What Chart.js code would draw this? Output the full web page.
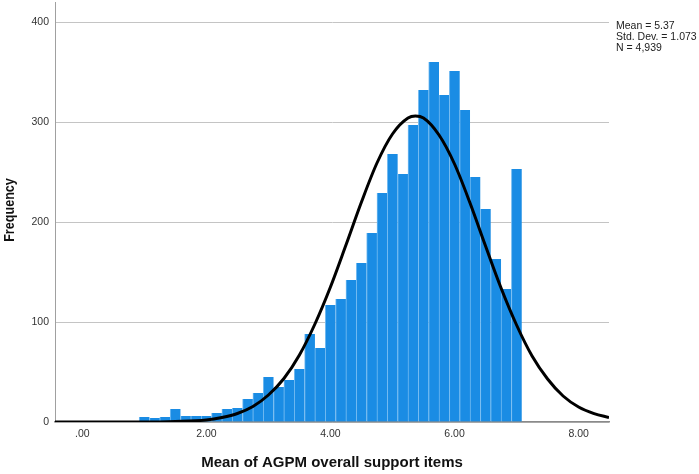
<!DOCTYPE html>
<html>
<head>
<meta charset="utf-8">
<script src="https://cdn.jsdelivr.net/npm/chart.js@4.4.1/dist/chart.umd.min.js"></script>
<style>
  html, body { margin: 0; padding: 0; background: #ffffff; }
  canvas { display: block; }
</style>
</head>
<body>
<canvas id="c" width="699" height="474"></canvas>
<script>
// Histogram bins (bin centres) and frequencies
const binCenters = [1.0000, 1.1667, 1.3333, 1.5000, 1.6667, 1.8333, 2.0000, 2.1667, 2.3333, 2.5000,
                    2.6667, 2.8333, 3.0000, 3.1667, 3.3333, 3.5000, 3.6667, 3.8333, 4.0000, 4.1667,
                    4.3333, 4.5000, 4.6667, 4.8333, 5.0000, 5.1667, 5.3333, 5.5000, 5.6667, 5.8333,
                    6.0000, 6.1667, 6.3333, 6.5000, 6.6667, 6.8333, 7.0000];
const frequencies = [5, 4, 5, 13, 6, 6, 6, 9, 13, 14,
                     23, 29, 45, 35, 42, 53, 88, 74, 117, 123,
                     142, 159, 189, 229, 268, 248, 297, 332, 360, 327,
                     351, 312, 245, 213, 163, 133, 253];

// Normal curve points
const curveX = [-0.44, 0, 0.5, 1.0, 1.5, 2.0, 2.25, 2.5, 2.75, 3.0, 3.25, 3.5, 3.75, 4.0, 4.25, 4.5, 4.75,
                5.0, 5.25, 5.37, 5.5, 5.75, 6.0, 6.25, 6.5, 6.75, 7.0, 7.25, 7.5, 7.75, 8.0, 8.25, 8.49];
const curveY = [0, 0, 0, 0, 0.5, 2, 4.5, 8.5, 15.5, 27, 43.5, 67, 98, 135, 177, 220, 259,
                288, 304, 306, 304, 287, 258, 219, 176, 134, 97, 66, 43, 26, 15, 8.4, 4.5];

const xTickValues = [0, 2, 4, 6, 8];
const xTickLabels = ['.00', '2.00', '4.00', '6.00', '8.00'];
const yTickValues = [0, 100, 200, 300, 400];
const yTickLabels = ['0', '100', '200', '300', '400'];

const statsLines = ['Mean = 5.37', 'Std. Dev. = 1.073', 'N = 4,939'];

const xTitle = 'Mean of AGPM overall support items';
const yTitle = 'Frequency';

const FONT = "'Liberation Sans', Arial, sans-serif";

const textPlugin = {
  id: 'texts',
  afterDraw(chart) {
    const ctx = chart.ctx;
    const area = chart.chartArea;
    ctx.save();
    ctx.fillStyle = '#222222';
    ctx.font = "10.5px " + FONT;
    ctx.textAlign = 'left';
    ctx.textBaseline = 'middle';
    const x = area.right + 7;
    statsLines.forEach((t, i) => ctx.fillText(t, x, 26 + i * 11));
    ctx.restore();

    // rotated y-axis title (slightly condensed like the reference)
    ctx.save();
    ctx.fillStyle = '#111111';
    ctx.font = "bold 15px " + FONT;
    ctx.textAlign = 'center';
    ctx.textBaseline = 'middle';
    ctx.translate(10, (area.top + area.bottom) / 2 - 2);
    ctx.rotate(-Math.PI / 2);
    ctx.scale(0.84, 1);
    ctx.fillText(yTitle, 0, 0);
    ctx.restore();
  }
};

new Chart(document.getElementById('c'), {
  type: 'bar',
  data: {
    datasets: [
      {
        type: 'line',
        data: curveX.map((x, i) => ({ x: x, y: curveY[i] })),
        borderColor: '#000000',
        borderWidth: 3,
        pointRadius: 0,
        fill: false,
        cubicInterpolationMode: 'monotone',
        order: 0
      },
      {
        type: 'bar',
        data: binCenters.map((x, i) => ({ x: x, y: frequencies[i] })),
        backgroundColor: '#1a8ce4',
        borderColor: '#74bbf1',
        borderWidth: { left: 1, right: 0, top: 0, bottom: 0 },
        borderSkipped: false,
        barPercentage: 1.0,
        categoryPercentage: 1.0,
        grouped: false,
        order: 1
      }
    ]
  },
  options: {
    responsive: false,
    animation: false,
    events: [],
    layout: { padding: { top: 2, right: 90, bottom: 0, left: 0 } },
    plugins: {
      legend: { display: false },
      tooltip: { enabled: false },
      title: { display: false }
    },
    scales: {
      x: {
        type: 'linear',
        min: -0.44,
        max: 8.49,
        offset: false,
        afterBuildTicks(scale) { scale.ticks = xTickValues.map(v => ({ value: v })); },
        afterFit(scale) { scale.height = 52; scale.paddingLeft = 0; scale.paddingRight = 0; },
        ticks: {
          autoSkip: false,
          maxRotation: 0,
          padding: 6,
          color: '#333333',
          font: { family: FONT, size: 10.5 },
          callback: (v) => { const i = xTickValues.indexOf(v); return i >= 0 ? xTickLabels[i] : ''; }
        },
        grid: { display: false, drawTicks: false },
        border: { display: true, color: '#8a8a8a', width: 1.5 },
        title: {
          display: true,
          text: xTitle,
          color: '#111111',
          font: { family: FONT, size: 15, weight: 'bold' },
          padding: { top: 0, bottom: 2 }
        }
      },
      y: {
        type: 'linear',
        min: 0,
        max: 420,
        afterBuildTicks(scale) { scale.ticks = yTickValues.map(v => ({ value: v })); },
        afterFit(scale) { scale.width = 55; scale.paddingTop = 0; scale.paddingBottom = 0; },
        ticks: {
          padding: 6,
          color: '#333333',
          font: { family: FONT, size: 10.5 },
          callback: (v) => { const i = yTickValues.indexOf(v); return i >= 0 ? yTickLabels[i] : ''; }
        },
        grid: { display: true, drawTicks: false, color: '#c4c4c4', lineWidth: 1 },
        border: { display: true, color: '#a0a0a0', width: 1 },
        title: { display: false }
      }
    }
  },
  plugins: [textPlugin]
});
</script>
</body>
</html>
